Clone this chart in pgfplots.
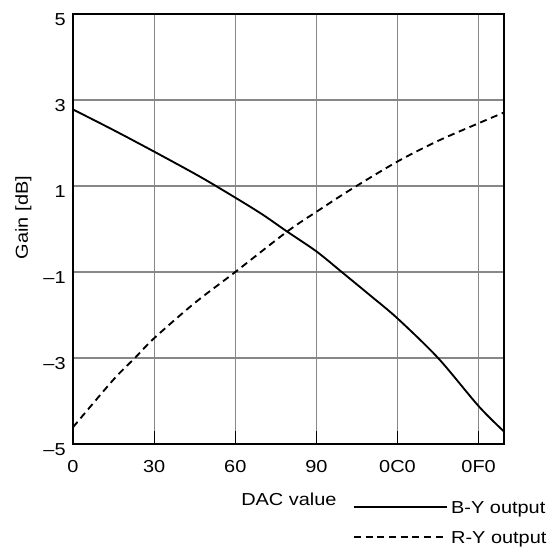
\documentclass[border=0pt]{standalone}
\usepackage{fontspec}
\setmainfont{Liberation Sans}[FakeStretch=1.15]
\usepackage{pgfplots}
\pgfplotsset{compat=1.18}
\definecolor{gridgray}{RGB}{135,135,135}
\begin{document}
\fontsize{13}{15}\selectfont
\begin{tikzpicture}
\useasboundingbox (-54.75pt,-80.25pt) rectangle (363pt,333pt);
\begin{axis}[
  scale only axis,
  width=323.25pt, height=322.5pt,
  xmin=0, xmax=255, ymin=-5, ymax=5,
  xtick={0,48,96,144,192,240},
  xticklabels={0,30,60,90,0C0,0F0},
  ytick={-5,-3,-1,1,3,5},
  yticklabels={\textendash5,\textendash3,\textendash1,1,3,5},
  font=\fontsize{13}{15}\selectfont,
  grid=major,
  major grid style={gridgray, line width=0.9pt},
  axis line style={black, line width=1.1pt},
  tick align=inside,
  xtick pos=bottom,
  major tick length=10pt,
  xtick style={black, line width=0.9pt},
  ytick style={draw=none},
  yticklabel style={yshift=-4pt, xshift=-1pt},
  xticklabel style={yshift=-8pt},
  legend style={at={(rel axis cs:0.649,-0.130)}, anchor=north west, draw=none, fill=none,
     inner sep=0pt, row sep=10pt, font=\fontsize{13}{15}\selectfont,
     nodes={inner sep=1pt},
     /tikz/every odd column/.append style={column sep=1.5pt}},
  legend cell align=left,
  legend image code/.code={\draw[#1] (0pt,1.5pt) -- (69.75pt,1.5pt);},
  clip=false,
]
\addplot[black, line width=1.4pt, smooth, tension=0.5] coordinates {
 (0,2.78) (24,2.30) (48,1.80) (75,1.22) (96,0.73) (112,0.34) (126.7,-0.06)
 (144,-0.52) (159,-1.0) (176,-1.55) (192,-2.08) (216,-3.0) (240,-4.12) (255,-4.71)
};
\addlegendentry{B-Y output}
\addplot[black, line width=1.4pt, dash pattern=on 5.25pt off 3.5pt, smooth, tension=0.5] coordinates {
 (0,-4.61) (24,-3.5) (36.6,-3.0) (48,-2.54) (72,-1.72) (96,-1.0) (126.7,-0.06)
 (144,0.40) (164,0.91) (192,1.57) (216,2.05) (240,2.46) (255,2.71)
};
\addlegendentry{R-Y output}
\node[anchor=base] at (rel axis cs:0.501,-0.144) {DAC value};
\node[rotate=90, anchor=center] at (rel axis cs:-0.115,0.5265) {Gain [dB]};
\end{axis}
\end{tikzpicture}
\end{document}
